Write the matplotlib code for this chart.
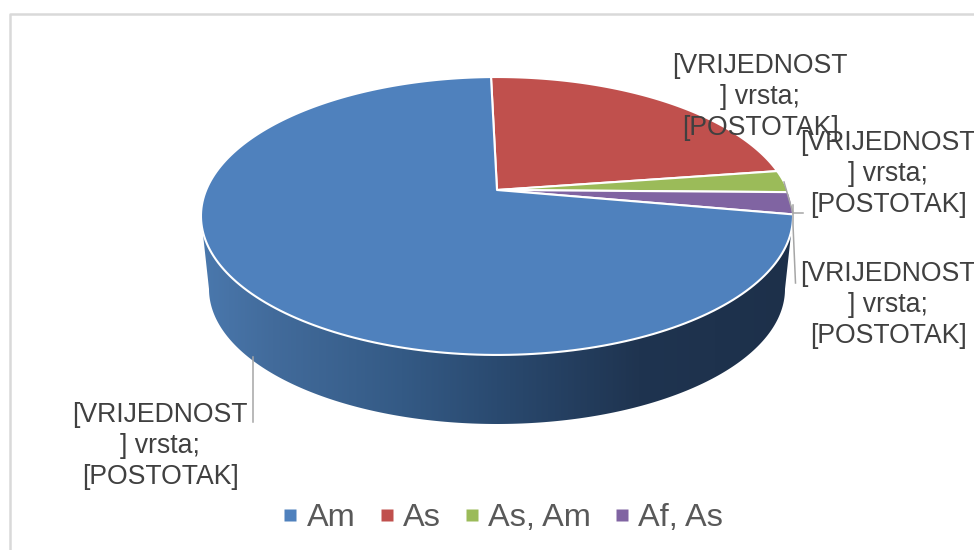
import numpy as np
import matplotlib
matplotlib.use("Agg")
import matplotlib.pyplot as plt
from matplotlib.colors import LinearSegmentedColormap
from matplotlib.lines import Line2D
from matplotlib.patches import Polygon

plt.rcParams["font.family"] = ["Liberation Sans", "DejaVu Sans"]

# Data
categories = ["Am", "As", "As, Am", "Af, As"]
counts = [28, 9, 1, 1]
colors = ["#4f81bd", "#c0504d", "#9bbb59", "#8064a2"]
label_text = "[VRIJEDNOST\n] vrsta;\n[POSTOTAK]"

# Pie geometry, in pixels
CX, APEX_Y = 497, 190
K = 0.187
A, B = 290.8, 134.1
START_ANGLE = 91.4  # As starts here and runs clockwise


def project(theta):
    # circle to screen, the back of the pie is further away
    u, v = np.cos(theta), np.sin(theta)
    return CX + A * u / (1 + K * v), APEX_Y - B * v / (1 + K * v)


def wedge(a0, a1):
    t = np.radians(np.linspace(a0, a1, 200))
    x, y = project(t)
    return np.column_stack([np.r_[CX, x], np.r_[APEX_Y, y]])


fig = plt.figure(figsize=(9.74, 5.5), dpi=100)
ax = fig.add_axes([0, 0, 1, 1])
ax.set_xlim(0, 974)
ax.set_ylim(550, 0)
ax.axis("off")

# Chart border
ax.plot([10, 10, 974], [550, 14, 14], color="#d9d9d9", lw=1.8)

# Side of the pie, gradient clipped to the outline
s = np.linspace(np.pi, 0, 200)
lx = CX + 288 * np.cos(s)
ly = 289 + 135 * np.sin(s)
side_pts = np.column_stack([np.r_[201, lx, 793], np.r_[216, ly, 216]])
side_cmap = LinearSegmentedColormap.from_list(
    "side",
    [(0, "#4a78ad"), (0.12, "#426b9b"), (0.34, "#345a85"), (0.5, "#2a4a70"),
     (0.74, "#1f3450"), (1, "#1d304a")],
)
grad = ax.imshow(np.linspace(0, 1, 256).reshape(1, -1), cmap=side_cmap,
                 extent=[201, 793, 430, 200], aspect="auto", zorder=1)
side = Polygon(side_pts, closed=True, fc="none", ec="none", transform=ax.transData)
ax.add_patch(side)
grad.set_clip_path(side)
ax.set_xlim(0, 974)
ax.set_ylim(550, 0)

# Top of the pie, As first and Am wrapping round to the start
order = [1, 2, 3, 0]
angle = START_ANGLE
for i in order:
    sweep = 360 * counts[i] / sum(counts)
    ax.add_patch(Polygon(wedge(angle, angle - sweep), closed=True, fc=colors[i],
                         ec="white", lw=1.5, joinstyle="round", zorder=2))
    angle -= sweep

# Leader lines
grey = "#a6a6a6"
ax.plot([784, 793, 803], [182, 213, 213], color=grey, lw=1.1, zorder=3)
ax.plot([793, 793, 795.5], [205, 225, 283], color=grey, lw=1.1, zorder=3)
ax.plot([253, 253], [357, 422], color=grey, lw=1.1, zorder=3)

# Data labels
for x, y in [(760, 97), (888, 174), (888, 305), (160, 446)]:
    ax.text(x, y, label_text, ha="center", va="center", fontsize=19.2,
            color="#404040", linespacing=1.27, zorder=4)

# Legend
handles = [Line2D([], [], ls="none", marker="s", ms=8.2, color=c, mec="none")
           for c in colors]
ax.legend(handles, categories, loc="center", bbox_to_anchor=(504 / 974, 1 - 518 / 550),
          ncol=4, frameon=False, fontsize=23.4, labelcolor="#595959",
          handlelength=0.35, handletextpad=0.32, columnspacing=0.79,
          borderpad=0, borderaxespad=0)

fig.savefig("out.png", dpi=100)
